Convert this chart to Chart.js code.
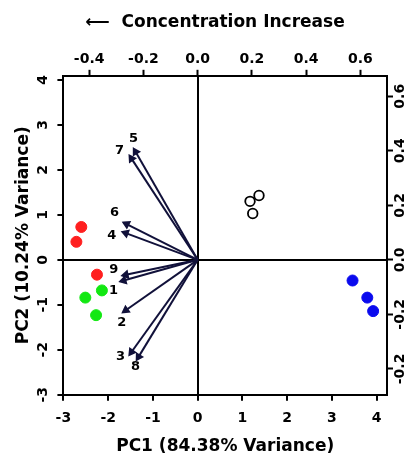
<!DOCTYPE html>
<html>
<head>
<meta charset="utf-8">
<script src="https://cdn.jsdelivr.net/npm/chart.js@4.4.1/dist/chart.umd.min.js"></script>
<style>
  body { margin: 0; background: #fff; }
</style>
</head>
<body>
<canvas id="myChart" width="413" height="457"></canvas>
<script>
// PC scores (bottom / left axes)
var redX = [-2.60, -2.71, -2.25];
var redY = [0.73, 0.40, -0.33];
var greenX = [-2.51, -2.14, -2.27];
var greenY = [-0.84, -0.68, -1.23];
var openX = [1.37, 1.17, 1.23];
var openY = [1.43, 1.30, 1.03];
var blueX = [3.46, 3.79, 3.92];
var blueY = [-0.46, -0.84, -1.14];

// loadings (top / right axes)
var varNames = ["1", "2", "3", "4", "5", "6", "7", "8", "9"];
var loadX = [-0.273, -0.265, -0.244, -0.265, -0.229, -0.262, -0.244, -0.218, -0.265];
var loadY = [-0.076, -0.185, -0.338, 0.098, 0.396, 0.131, 0.371, -0.356, -0.055];

// ticks
var pcTicksX = [-3, -2, -1, 0, 1, 2, 3, 4];
var pcTicksY = [-3, -2, -1, 0, 1, 2, 3, 4];
var topTicks = [-0.4, -0.2, 0.0, 0.2, 0.4, 0.6];
var topLabels = ["-0.4", "-0.2", "0.0", "0.2", "0.4", "0.6"];
var rightTicks = [-0.4, -0.2, 0.0, 0.2, 0.4, 0.6];
var rightLabels = ["-0.2", "-0.2", "0.0", "0.2", "0.4", "0.6"];

// label offsets (px) from arrow tips
var labelDX = [-10, -4, -11, -14, -2, -12, -12, -3, -12];
var labelDY = [10, 12, 5, 3, -13, -11, -8, 10, -5];

var FONT = '"DejaVu Sans", Verdana, sans-serif';
var ratio = 6.06; // PC units per loading unit
var xMin = -3, xMax = 4.23, yMin = -3, yMax = 4.09;

function pts(xs, ys) {
    return xs.map(function (v, i) { return { x: v, y: ys[i] }; });
}

function fixTicks(vals) {
    return function (scale) {
        scale.ticks = vals.map(function (v) { return { value: v }; });
    };
}

var datasets = [
    { data: pts(redX, redY), backgroundColor: "#ff1f1f", borderColor: "#ff1f1f", pointRadius: 5.5 },
    { data: pts(greenX, greenY), backgroundColor: "#12e812", borderColor: "#12e812", pointRadius: 5.5 },
    { data: pts(openX, openY), backgroundColor: "#ffffff", borderColor: "#000000", borderWidth: 1.8, pointRadius: 4.8 },
    { data: pts(blueX, blueY), backgroundColor: "#0a0aee", borderColor: "#0a0aee", pointRadius: 5.5 }
];
datasets.forEach(function (d) { d.type = "scatter"; d.xAxisID = "x"; d.yAxisID = "y"; });

loadX.forEach(function (lx, i) {
    var ly = loadY[i];
    var rot = Math.atan2(-ly, lx) * 180 / Math.PI + 90;
    datasets.push({
        type: "line",
        xAxisID: "x2",
        yAxisID: "y2",
        data: [{ x: 0, y: 0 }, { x: lx, y: ly }],
        borderColor: "#11113a",
        backgroundColor: "#11113a",
        borderWidth: 2,
        pointRadius: [0, 3.5],
        pointStyle: "triangle",
        pointRotation: [0, rot],
        label: varNames[i]
    });
});

var sideLabels = {
    id: "sideLabels",
    afterDraw: function (chart) {
        var ctx = chart.ctx;
        ctx.save();
        ctx.fillStyle = "#000";
        ctx.textAlign = "center";
        ctx.textBaseline = "middle";
        // top title
        ctx.font = "bold 17px " + FONT;
        ctx.fillText("\u27F5  Concentration Increase", 215, 23);
        ctx.font = "bold 14px " + FONT;
        var sy = chart.scales.y, sy2 = chart.scales.y2;
        pcTicksY.forEach(function (v) {
            ctx.save();
            ctx.translate(43, sy.getPixelForValue(v));
            ctx.rotate(-Math.PI / 2);
            ctx.fillText(String(v), 0, 0);
            ctx.restore();
        });
        rightTicks.forEach(function (v, i) {
            ctx.save();
            ctx.translate(400, sy2.getPixelForValue(v));
            ctx.rotate(-Math.PI / 2);
            ctx.fillText(rightLabels[i], 0, 0);
            ctx.restore();
        });
        // arrow labels
        ctx.font = "bold 13px " + FONT;
        chart.data.datasets.forEach(function (d, di) {
            if (d.type !== "line") return;
            var idx = varNames.indexOf(d.label);
            var p = chart.getDatasetMeta(di).data[1];
            ctx.fillText(d.label, p.x + labelDX[idx], p.y + labelDY[idx]);
        });
        ctx.restore();
    }
};

var zeroGrid = function (c) { return c.tick && c.tick.value === 0 ? "#000" : "rgba(0,0,0,0)"; };

var ctx = document.getElementById("myChart").getContext("2d");
var biplot = new Chart(ctx, {
    data: { datasets: datasets },
    options: {
        responsive: false,
        animation: false,
        layout: { padding: { left: 13, right: 20, top: 49, bottom: 0 } },
        plugins: {
            legend: { display: false },
            tooltip: { enabled: false },
            title: { display: false }
        },
        scales: {
            x: {
                type: "linear", position: "bottom", min: xMin, max: xMax,
                afterBuildTicks: fixTicks(pcTicksX),
                border: { display: true, color: "#000", width: 2 },
                grid: { color: zeroGrid, lineWidth: 2, tickColor: "#000", tickWidth: 2, tickLength: 6 },
                ticks: { color: "#000", font: { family: FONT, size: 14, weight: "bold" }, padding: 9, maxRotation: 0 },
                title: { display: true, text: "PC1 (84.38% Variance)", color: "#000",
                    font: { family: FONT, size: 17, weight: "bold" }, padding: { top: 1, bottom: 0 } }
            },
            x2: {
                type: "linear", position: "top", min: xMin / ratio, max: xMax / ratio,
                afterBuildTicks: fixTicks(topTicks),
                border: { display: true, color: "#000", width: 2 },
                grid: { drawOnChartArea: false, color: "#000", tickColor: "#000", tickWidth: 2, tickLength: 6 },
                ticks: { color: "#000", font: { family: FONT, size: 14, weight: "bold" }, padding: 2, maxRotation: 0,
                    callback: function (v) { var i = topTicks.indexOf(v); return i >= 0 ? topLabels[i] : ""; } }
            },
            y: {
                type: "linear", position: "left", min: yMin, max: yMax,
                afterBuildTicks: fixTicks(pcTicksY),
                border: { display: true, color: "#000", width: 2 },
                grid: { color: zeroGrid, lineWidth: 2, tickColor: "#000", tickWidth: 2, tickLength: 6 },
                ticks: { display: false },
                title: { display: true, text: "PC2 (10.24% Variance)", color: "#000",
                    font: { family: FONT, size: 17, weight: "bold" }, padding: { top: 0, bottom: 24 } }
            },
            y2: {
                type: "linear", position: "right", min: yMin / ratio, max: yMax / ratio,
                afterBuildTicks: fixTicks(rightTicks),
                border: { display: true, color: "#000", width: 2 },
                grid: { drawOnChartArea: false, color: "#000", tickColor: "#000", tickWidth: 2, tickLength: 6 },
                ticks: { display: false }
            }
        }
    },
    plugins: [sideLabels]
});
</script>
</body>
</html>
